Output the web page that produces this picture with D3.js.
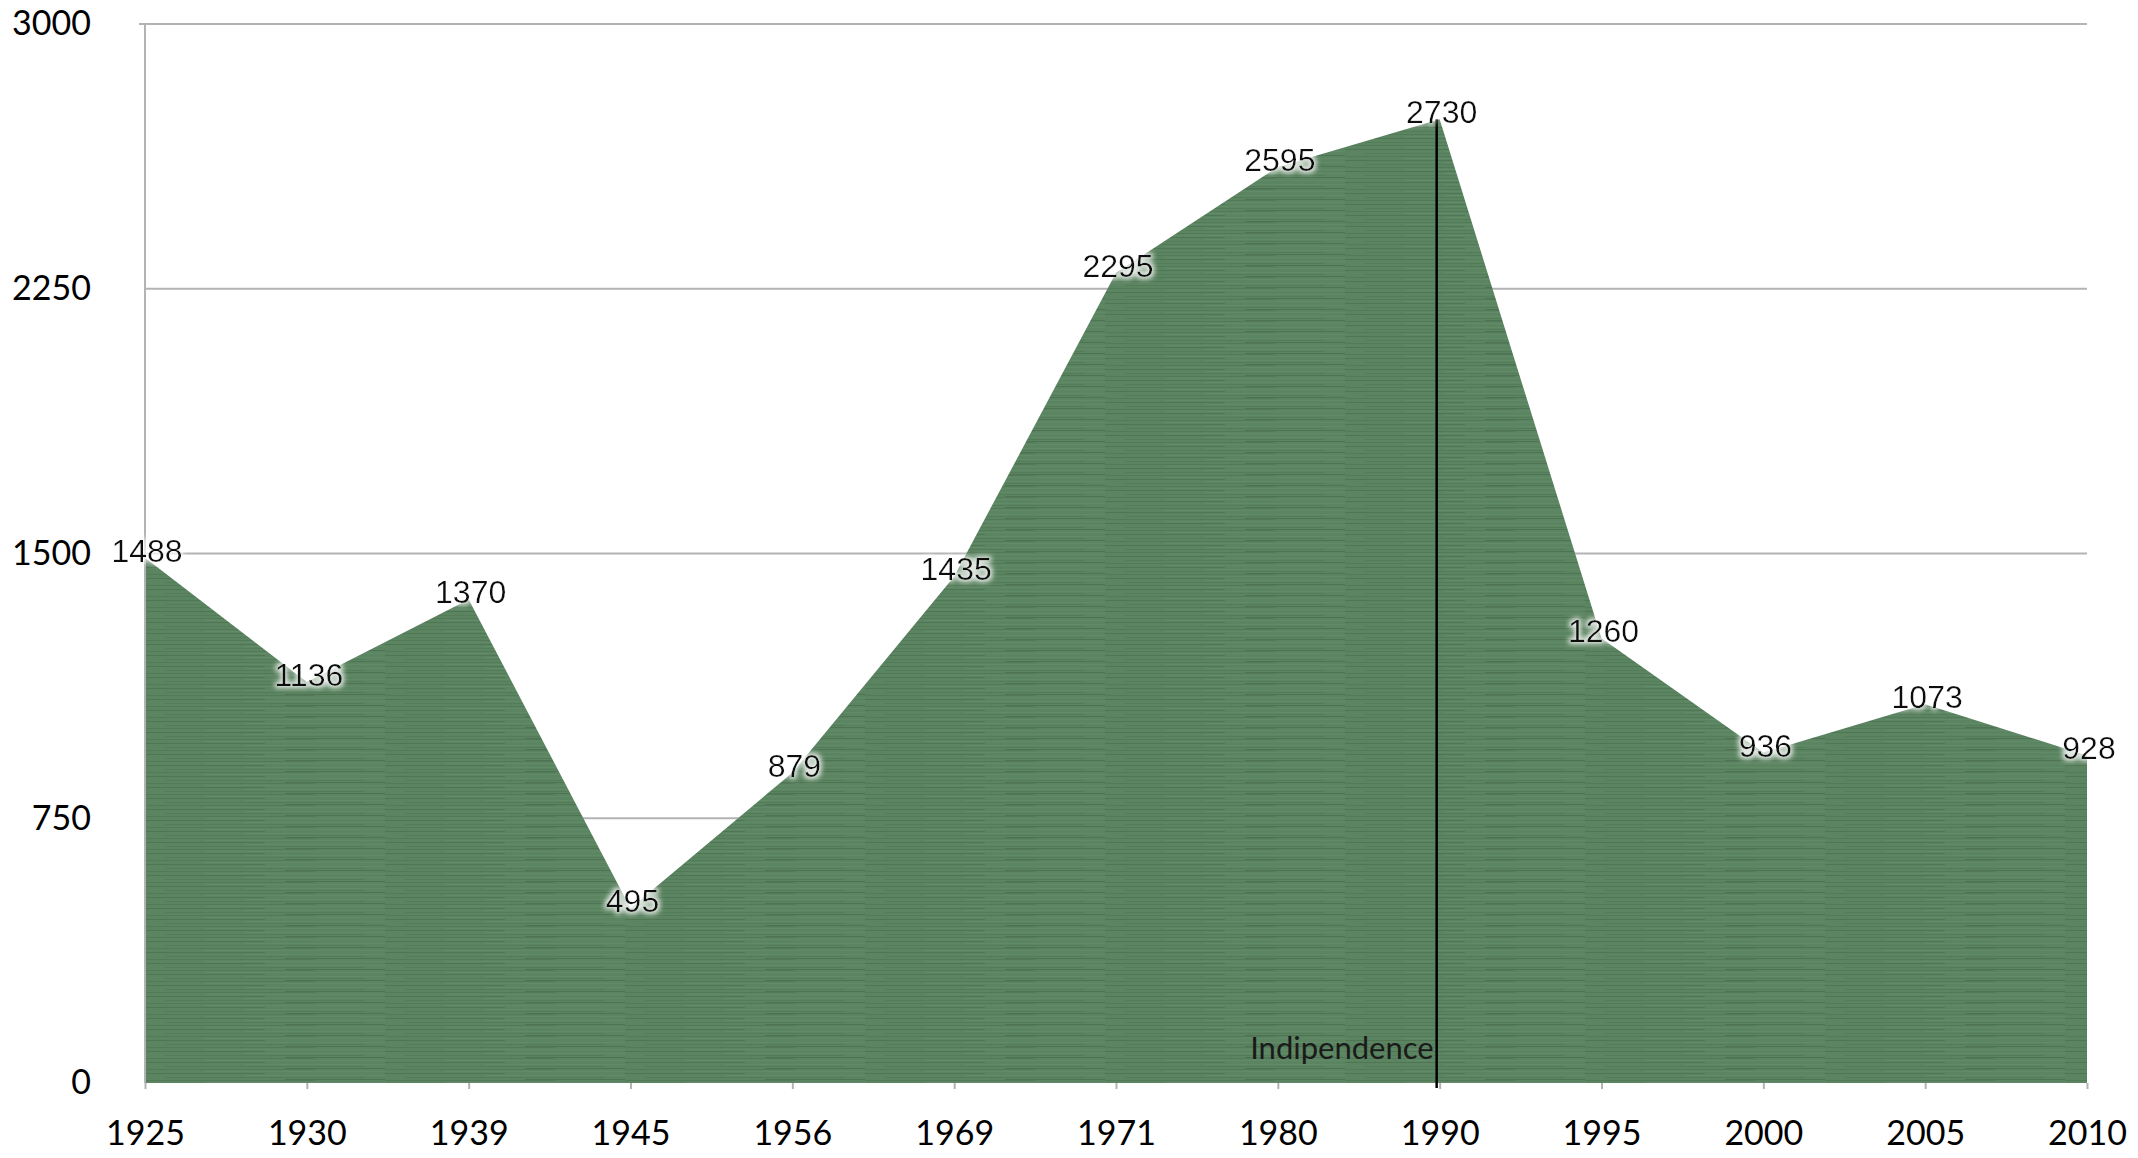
<!DOCTYPE html>
<html>
<head>
<meta charset="utf-8">
<script src="https://cdn.jsdelivr.net/npm/d3@7"></script>
<style>
body { margin: 0; background: #fff; }
.grid line { stroke: #b3b3b3; stroke-width: 2px; }
.axis path, .axis line { stroke: #b3b3b3; stroke-width: 2px; }
.axis text { font-family: Lato, "Open Sans", sans-serif; fill: #000; }
.lbl { font-family: "Liberation Sans", Arial, sans-serif; font-size: 32px; fill: #111; }
</style>
</head>
<body>
<div id="chart"></div>
<script>
// data
var years = ["1925","1930","1939","1945","1956","1969","1971","1980","1990","1995","2000","2005","2010"];
var values = [1488, 1136, 1370, 495, 879, 1435, 2295, 2595, 2730, 1260, 936, 1073, 928];
var yTicks = [0, 750, 1500, 2250, 3000];
var markYear = "1990";
var markText = "Indipendence";

var W = 2138, H = 1158;
var margin = {top: 24, right: 51, bottom: 75, left: 145},
    width = W - margin.left - margin.right,
    height = H - margin.top - margin.bottom;

var x = d3.scalePoint().domain(years).range([0, width]);
var y = d3.scaleLinear().domain([0, 3000]).range([height, 0]);

var svg = d3.select("#chart").append("svg")
    .attr("width", W).attr("height", H);

// stripe texture for the area
var defs = svg.append("defs");
var pat = defs.append("pattern")
    .attr("id", "stripes")
    .attr("patternUnits", "userSpaceOnUse")
    .attr("width", 240).attr("height", 11);
pat.append("rect").attr("width", 240).attr("height", 11).attr("fill", "#5b8460");
var stripeRows = [
  {y: 0, x: 0, w: 170, c: "#527a58"},
  {y: 2, x: 60, w: 180, c: "#62896a"},
  {y: 4, x: 0, w: 120, c: "#4f7555"},
  {y: 6, x: 100, w: 140, c: "#618a66"},
  {y: 8, x: 20, w: 200, c: "#557c5a"},
  {y: 10, x: 140, w: 100, c: "#4d7353"}
];
stripeRows.forEach(function(s) {
  pat.append("rect").attr("x", s.x).attr("y", s.y).attr("width", s.w).attr("height", 1).attr("fill", s.c);
});

var glow = defs.append("filter").attr("id", "glow").attr("x", "-20%").attr("y", "-40%").attr("width", "140%").attr("height", "180%");
glow.append("feMorphology").attr("in", "SourceAlpha").attr("operator", "dilate").attr("radius", 2).attr("result", "d");
glow.append("feGaussianBlur").attr("in", "d").attr("stdDeviation", 2.5).attr("result", "b");
glow.append("feFlood").attr("flood-color", "#fff").attr("flood-opacity", 0.85);
glow.append("feComposite").attr("in2", "b").attr("operator", "in").attr("result", "g");
var mrg = glow.append("feMerge");
mrg.append("feMergeNode").attr("in", "g");
mrg.append("feMergeNode").attr("in", "SourceGraphic");

var g = svg.append("g")
    .attr("transform", "translate(" + margin.left + "," + margin.top + ")");

// gridlines
g.append("g").attr("class", "grid")
  .selectAll("line").data(yTicks.filter(function(d) { return d > 0; }))
  .enter().append("line")
  .attr("x1", 0).attr("x2", width)
  .attr("y1", function(d) { return y(d); })
  .attr("y2", function(d) { return y(d); });

// area
var area = d3.area()
  .x(function(d, i) { return x(years[i]); })
  .y0(y(0))
  .y1(function(d) { return y(d); });

g.append("path")
  .datum(values)
  .attr("fill", "url(#stripes)")
  .attr("d", area);

// y axis
var yAxis = d3.axisLeft(y).tickValues(yTicks).tickSize(0).tickPadding(54).tickFormat(d3.format("d"));
g.append("g").attr("class", "axis y")
  .call(yAxis)
  .call(function(s) { s.select(".domain").attr("d", "M-6,0H0V" + height); })
  .selectAll("text").style("font-size", "34px");

// x axis
var xAxis = d3.axisBottom(x).tickSize(6).tickPadding(32);
g.append("g").attr("class", "axis x")
  .attr("transform", "translate(0," + height + ")")
  .call(xAxis)
  .call(function(s) { s.select(".domain").remove(); })
  .selectAll("text").style("font-size", "34px");

// independence marker
var mx = x(markYear);
g.append("line")
  .attr("x1", mx - 3).attr("x2", mx - 3)
  .attr("y1", y(values[years.indexOf(markYear)]))
  .attr("y2", height + 5)
  .attr("stroke", "#000").attr("stroke-width", 2.5);
g.append("text")
  .attr("x", mx - 6).attr("y", height - 24)
  .attr("text-anchor", "end")
  .style("font-family", "Lato, sans-serif")
  .style("font-size", "31px")
  .style("fill", "#1a1a1a")
  .text(markText);

// value labels
g.append("g").selectAll("text")
  .data(values).enter().append("text")
  .attr("class", "lbl")
  .attr("filter", "url(#glow)")
  .attr("text-anchor", "middle")
  .attr("x", function(d, i) { return x(years[i]) + 2; })
  .attr("y", function(d) { return y(d) + 4; })
  .text(function(d) { return d; });
</script>
</body>
</html>
